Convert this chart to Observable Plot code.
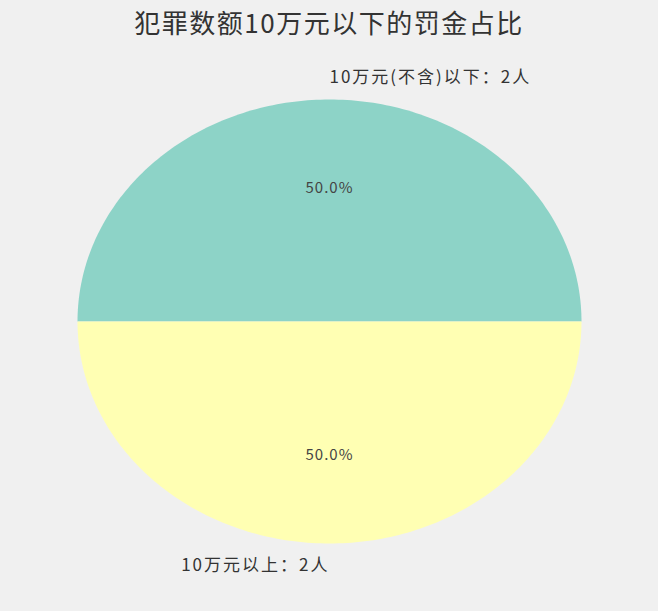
<!DOCTYPE html>
<html>
<head>
<meta charset="utf-8">
<script src="https://cdn.jsdelivr.net/npm/d3@7"></script>
<script src="https://cdn.jsdelivr.net/npm/@observablehq/plot@0.6"></script>
<style>
  html, body { margin: 0; padding: 0; background: #f0f0f0; }
  body { width: 658px; height: 611px; overflow: hidden; font-family: "Noto Sans CJK SC", sans-serif; }
  #title { height: 45px; line-height: 43px; text-align: center; font-size: 26px; color: #333; letter-spacing: 1.5px; }
  #chart svg { display: block; }
</style>
</head>
<body>
<div id="title">犯罪数额10万元以下的罚金占比</div>
<div id="chart"></div>
<script>
const categories = ["10万元(不含)以下", "10万元以上"];
const counts = [2, 2];
const colors = ["#8dd3c7", "#ffffb3"];

const total = d3.sum(counts);
// matplotlib-like: start at 0 rad (right), counterclockwise
const slices = [];
let start = 0;
categories.forEach((c, i) => {
  const span = counts[i] / total * 2 * Math.PI;
  slices.push({label: c, value: counts[i], a0: start, a1: start + span, color: colors[i]});
  start += span;
});

const wedgePts = [];
for (const s of slices) {
  wedgePts.push({label: s.label, x: 0, y: 0});
  const n = 180;
  for (let k = 0; k <= n; k++) {
    const a = s.a0 + (s.a1 - s.a0) * k / n;
    wedgePts.push({label: s.label, x: Math.cos(a), y: Math.sin(a)});
  }
}

const labelPts = slices.map(s => {
  const m = (s.a0 + s.a1) / 2;
  const x = Math.cos(m), y = Math.sin(m);
  return {
    text: `${s.label}：${s.value}人`,
    x: 1.1 * x, y: 1.1 * y,
    anchor: x > 0 ? "start" : "end",
    pct: (s.value / total * 100).toFixed(1) + "%",
    px: 0.6 * x, py: 0.6 * y
  };
});

const plot = Plot.plot({
  width: 658,
  height: 566,
  marginLeft: 77,
  marginRight: 77,
  marginTop: 54,
  marginBottom: 68,
  x: {domain: [-1, 1], axis: null},
  y: {domain: [-1, 1], axis: null},
  color: {domain: categories, range: colors},
  style: {background: "#f0f0f0", fontFamily: "'Noto Sans CJK SC', sans-serif"},
  marks: [
    Plot.line(wedgePts, {x: "x", y: "y", z: "label", fill: "label", stroke: "none", curve: "linear-closed"}),
    Plot.text(labelPts.filter(d => d.anchor === "start"), {x: "x", y: "y", text: "text", textAnchor: "start", fontSize: 17, fill: "#333", style: "letter-spacing:2px"}),
    Plot.text(labelPts.filter(d => d.anchor === "end"), {x: "x", y: "y", text: "text", textAnchor: "end", fontSize: 17, fill: "#333", style: "letter-spacing:2px"}),
    Plot.text(labelPts, {x: "px", y: "py", text: "pct", fontSize: 15, fill: "#444", style: "letter-spacing:1px"})
  ]
});
plot.querySelectorAll("text").forEach(t => t.style.letterSpacing = t.closest("g[font-size='15']") ? "1px" : "2px");
document.getElementById("chart").appendChild(plot);
</script>
</body>
</html>
